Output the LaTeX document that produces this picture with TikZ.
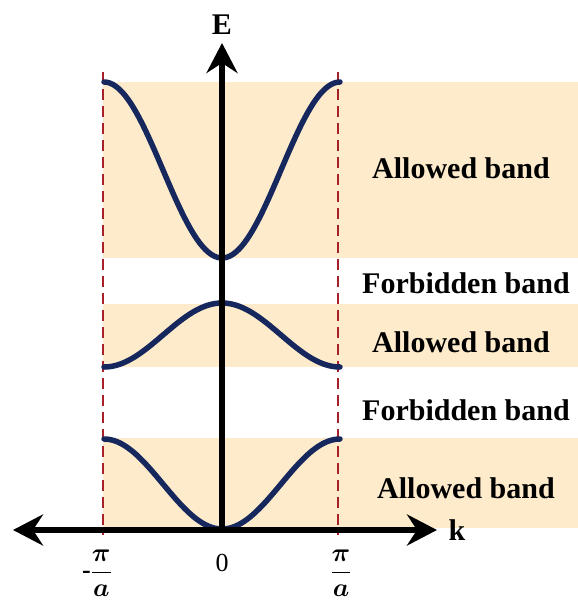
\documentclass[tikz,border=0pt]{standalone}
\usepackage{fix-cm}
\usepackage{amsmath,amssymb}
\usepackage{fontspec}
\setmainfont{Liberation Serif}
\usepackage{tikz}
\usetikzlibrary{arrows.meta}

\definecolor{bandfill}{HTML}{FDEBCB}
\definecolor{curvenavy}{HTML}{15275C}
\definecolor{edgered}{HTML}{A8202A}

\tikzset{
	band/.style={fill=bandfill,draw=none},
	bandcurve/.style={draw=curvenavy,line width=5.5pt,line cap=round},
	zoneedge/.style={draw=edgered,line width=1.8pt,dash pattern=on 11pt off 6pt},
	axisline/.style={line width=5.5pt},
	axistip/.tip={Stealth[length=30pt,width=31pt,inset=10pt]},
	bandlabel/.style={font=\bfseries\fontsize{30}{34}\selectfont},
	axislabel/.style={font=\bfseries\fontsize{30}{34}\selectfont},
	ticklabel/.style={font=\fontsize{26}{30}\selectfont},
}

\begin{document}
\begin{tikzpicture}[x=1pt,y=-1pt]
				%\draw[color=gray,step=10, help lines,opacity=0.3] (0,0) grid (578,603); %help grids
				\useasboundingbox (0,0) rectangle (578,603);
				% allowed bands
				\fill[band] (103,82) rectangle (578,258);
				\fill[band] (103,304) rectangle (578,367);
				\fill[band] (103,438) rectangle (578,528);
				% zone edges
				\coordinate (lefttop) at (103,72);
				\coordinate (leftbot) at (103,535);
				\coordinate (righttop) at (338,72);
				\coordinate (rightbot) at (338,535);
				\draw[zoneedge] (lefttop)--(leftbot);
				\draw[zoneedge] (righttop)--(rightbot);
				% E(k) curves
				\draw[bandcurve] plot[domain=-1:1,samples=80,smooth] ({222+118*\x},{170+88*cos(180*\x)});
				\draw[bandcurve] plot[domain=-1:1,samples=80,smooth] ({222+118*\x},{335-32*cos(180*\x)});
				\draw[bandcurve] plot[domain=-1:1,samples=80,smooth] ({222+118*\x},{484+45*cos(180*\x)});
				% axes
				\coordinate (origin) at (222,530);
				\coordinate (kleft) at (13,530);
				\coordinate (kright) at (437,530);
				\coordinate (etop) at (222,43);
				\draw[axisline,axistip-axistip] (kleft)--(kright);
				\draw[axisline,-axistip] (origin)--(etop);
				\node[axislabel] (elabel) at (222,25) {E};
				\node[axislabel] (klabel) at (457,530) {k};
				\node[ticklabel] (zerolabel) at (222,563) {0};
				\node[ticklabel,inner sep=0pt] (minuspi) at (97,573) {{\bfseries -}$\displaystyle\frac{\boldsymbol{\pi}}{\boldsymbol{a}}$};
				\node[ticklabel,inner sep=0pt] (pluspi) at (341,573) {$\displaystyle\frac{\boldsymbol{\pi}}{\boldsymbol{a}}$};
				% band names
				\node[bandlabel] (allowedone) at (461,168) {Allowed band};
				\node[bandlabel] (forbiddenone) at (466,283) {Forbidden band};
				\node[bandlabel] (allowedtwo) at (461,342) {Allowed band};
				\node[bandlabel] (forbiddentwo) at (466,410) {Forbidden band};
				\node[bandlabel] (allowedthree) at (466,488) {Allowed band};
\end{tikzpicture}
\end{document}
